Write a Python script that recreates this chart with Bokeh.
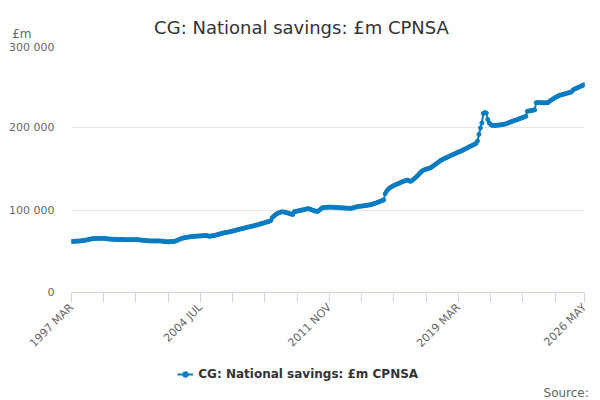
import math
from bokeh.plotting import figure
from bokeh.layouts import column
from bokeh.models import Range1d, FixedTicker, Legend, LegendItem, Label
from bokeh.embed import file_html
from bokeh.resources import INLINE

# ---- data (monthly, 1997 MAR .. 2026 MAY), £m ----
start_year = 1997
start_month = 3
values = [
    62000, 62100, 62200, 62300, 62400, 62500, 62700, 62900, 63100, 63400,                 # 1997
    63700, 64100, 64500, 64900, 65300, 65400, 65500, 65600, 65700, 65700, 65800, 65800,   # 1998
    65700, 65500, 65300, 65100, 64900, 64800, 64700, 64600, 64600, 64500, 64500, 64400,   # 1999
    64400, 64300, 64300, 64200, 64200, 64200, 64300, 64300, 64200, 64200, 64200, 64100,   # 2000
    64000, 63800, 63600, 63400, 63200, 63000, 62800, 62700, 62700, 62700, 62600, 62600,   # 2001
    62600, 62600, 62600, 62500, 62300, 62000, 61800, 61600, 61600, 61700, 61800, 61900,   # 2002
    62000, 62500, 63200, 64000, 64800, 65500, 66000, 66500, 66800, 67100, 67400, 67700,   # 2003
    67900, 68100, 68300, 68400, 68500, 68600, 68700, 68900, 69000, 69200, 69100, 68800,   # 2004
    68300, 68500, 68900, 69200, 69500, 70000, 70500, 71000, 71500, 72000, 72500, 72800,   # 2005
    73100, 73400, 73800, 74200, 74600, 75100, 75600, 76000, 76500, 77000, 77400, 77800,   # 2006
    78300, 78800, 79200, 79600, 80000, 80400, 80900, 81300, 81800, 82300, 82800, 83300,   # 2007
    83800, 84300, 84900, 85500, 86000, 86500, 87300, 91000, 92800, 94300, 95500, 96500,   # 2008
    97300, 97800, 98000, 97700, 97300, 96800, 96300, 95700, 95200, 94700, 98200, 98500,   # 2009
    98900, 99200, 99600, 100000, 100400, 100800, 101300, 101700, 101600, 101000, 100300, 99600,  # 2010
    99100, 98700, 98400, 99800, 101300, 102800, 103100, 103300, 103500, 103600, 103700, 103700,  # 2011
    103600, 103500, 103400, 103300, 103100, 103000, 102900, 102800, 102600, 102500, 102400, 102400,  # 2012
    102300, 102300, 102800, 103300, 103800, 104300, 104600, 104800, 105000, 105200, 105500, 105700,  # 2013
    106000, 106300, 106600, 107100, 107700, 108300, 108900, 109500, 110300, 111000, 111800, 112500,  # 2014
    120000, 123000, 125300, 126800, 128000, 129000, 130000, 130800, 131600, 132300, 133000, 134000,  # 2015
    134700, 135400, 136000, 136500, 136000, 135000, 135500, 137000, 138500, 140000, 141800, 143600,  # 2016
    145500, 147200, 148500, 149200, 149800, 150300, 150900, 151500, 152700, 154000, 155300, 156600,  # 2017
    157900, 159200, 160500, 161400, 162300, 163200, 164000, 164800, 165700, 166500, 167300, 168100,  # 2018
    168900, 169700, 170500, 171300, 172000, 172900, 173800, 174700, 175600, 176500, 177500, 178300,  # 2019
    179200, 180100, 181000, 184000, 192000, 200000, 206000, 217500, 218500, 218000, 210000, 206000,  # 2020
    204000, 203000, 202800, 202900, 203100, 203300, 203500, 203700, 204000, 204300, 204700, 205200,  # 2021
    206000, 206800, 207500, 208100, 208700, 209300, 209900, 210600, 211300, 212000, 212700, 213300,  # 2022
    214000, 220000, 220500, 220800, 221200, 221500, 221800, 230500, 230700, 230600, 230500, 230500,  # 2023
    230400, 230400, 230500, 230500, 232000, 233300, 234500, 235600, 236700, 237700, 238600, 239500,  # 2024
    240000, 240500, 241000, 241500, 242000, 242500, 243000, 243500, 245500, 247000, 247700, 248500,  # 2025
    249300, 250200, 251000, 251800, 252500,                                                # 2026
]
month_names = ["JAN", "FEB", "MAR", "APR", "MAY", "JUN",
               "JUL", "AUG", "SEP", "OCT", "NOV", "DEC"]
periods = []
for i in range(len(values)):
    m = start_month - 1 + i
    periods.append(f"{start_year + m // 12} {month_names[m % 12]}")
x_idx = list(range(len(values)))

labelled_periods = ["1997 MAR", "2004 JUL", "2011 NOV", "2019 MAR", "2026 MAY"]
y_ticks = [0, 100000, 200000, 300000]
y_tick_labels = ["0", "100 000", "200 000", "300 000"]
series_name = "CG: National savings: £m CPNSA"
title_text = "CG: National savings: £m CPNSA"
unit_text = "£m"
source_text = "Source:"

FONT = "DejaVu Sans"
BLUE = "#0a7cc1"
W = 600
TOP_H, MAIN_H, BOT_H = 40, 323, 37


def text_strip(height):
    f = figure(width=W, height=height, output_backend="svg", toolbar_location=None,
               x_range=Range1d(0, 1), y_range=Range1d(0, 1),
               x_axis_type=None, y_axis_type=None, frame_align=False,
               min_border_left=0, min_border_right=0, min_border_top=0,
               min_border_bottom=0)
    f.outline_line_color = None
    f.xgrid.grid_line_color = None
    f.ygrid.grid_line_color = None
    f.background_fill_color = "white"
    f.border_fill_color = "white"
    return f


# ---- top strip: title and unit ----
top = text_strip(TOP_H)
top.add_layout(Label(x=301, y=TOP_H - 26.5, x_units="screen", y_units="screen",
                     text=title_text, text_font=FONT, text_font_size="18px",
                     text_color="#333333", text_align="center", text_baseline="alphabetic"))
top.add_layout(Label(x=11.7, y=TOP_H - 33.5, x_units="screen", y_units="screen",
                     text=unit_text, text_font=FONT, text_font_size="12px",
                     text_color="#666666", text_align="left", text_baseline="alphabetic"))

# ---- main chart ----
p = figure(width=W, height=MAIN_H, output_backend="svg", toolbar_location=None,
           x_range=Range1d(0, len(values) - 1), y_range=Range1d(0, 300000),
           min_border_left=71, min_border_right=16, min_border_top=5,
           min_border_bottom=71, frame_align=False)
p.outline_line_color = None
p.background_fill_color = "white"
p.border_fill_color = "white"

p.line(x_idx, values, line_color=BLUE, line_width=2)
p.scatter(x_idx, values, size=4, fill_color=BLUE, line_color=BLUE)

step = 22
x_ticks = list(range(0, len(values) - 1, step)) + [len(values) - 1]
overrides = {}
for t in x_ticks:
    overrides[t] = periods[t] if periods[t] in labelled_periods else ""
p.xaxis.ticker = FixedTicker(ticks=x_ticks)
p.xaxis.major_label_overrides = overrides
p.xaxis.major_label_orientation = math.pi / 4
p.xaxis.axis_line_color = "#ccd6eb"
p.xaxis.major_tick_line_color = "#ccd6eb"
p.xaxis.major_tick_out = 10
p.xaxis.major_tick_in = 0
p.xaxis.minor_tick_line_color = None
p.xaxis.major_label_text_font = FONT
p.xaxis.major_label_text_font_size = "11px"
p.xaxis.major_label_text_color = "#666666"
p.xaxis.major_label_standoff = 3
p.xgrid.grid_line_color = None

p.yaxis.ticker = FixedTicker(ticks=y_ticks)
p.yaxis.major_label_overrides = dict(zip(y_ticks, y_tick_labels))
p.yaxis.axis_line_color = None
p.yaxis.major_tick_line_color = None
p.yaxis.minor_tick_line_color = None
p.yaxis.major_tick_out = 0
p.yaxis.major_tick_in = 0
p.yaxis.major_label_standoff = 17
p.yaxis.major_label_text_font = FONT
p.yaxis.major_label_text_font_size = "11px"
p.yaxis.major_label_text_color = "#666666"
p.ygrid.grid_line_color = "#e6e6e6"
p.ygrid.grid_line_width = 1

# ---- bottom strip: legend and source ----
bot = text_strip(BOT_H)
# same series, outside this strip's visible range: only its legend key shows
k_line = bot.line(x_idx, values, line_color=BLUE, line_width=2)
k_pts = bot.scatter(x_idx, values, size=4, fill_color=BLUE, line_color=BLUE)
legend = Legend(items=[LegendItem(label=series_name, renderers=[k_line, k_pts])],
                location=(177.3, BOT_H - 18), orientation="horizontal",
                border_line_color=None, background_fill_alpha=0,
                padding=0, margin=0, spacing=0,
                glyph_width=16, glyph_height=14, label_height=14, label_standoff=5,
                label_text_font=FONT, label_text_font_size="12px",
                label_text_font_style="bold", label_text_color="#333333")
bot.add_layout(legend)
bot.add_layout(Label(x=588.3, y=BOT_H - (392.0 - 363), x_units="screen", y_units="screen",
                     text=source_text, text_font=FONT, text_font_size="12px",
                     text_color="#666666", text_align="right", text_baseline="alphabetic"))

layout = column(top, p, bot, spacing=0)
open("out.html", "w").write(file_html(layout, INLINE))
